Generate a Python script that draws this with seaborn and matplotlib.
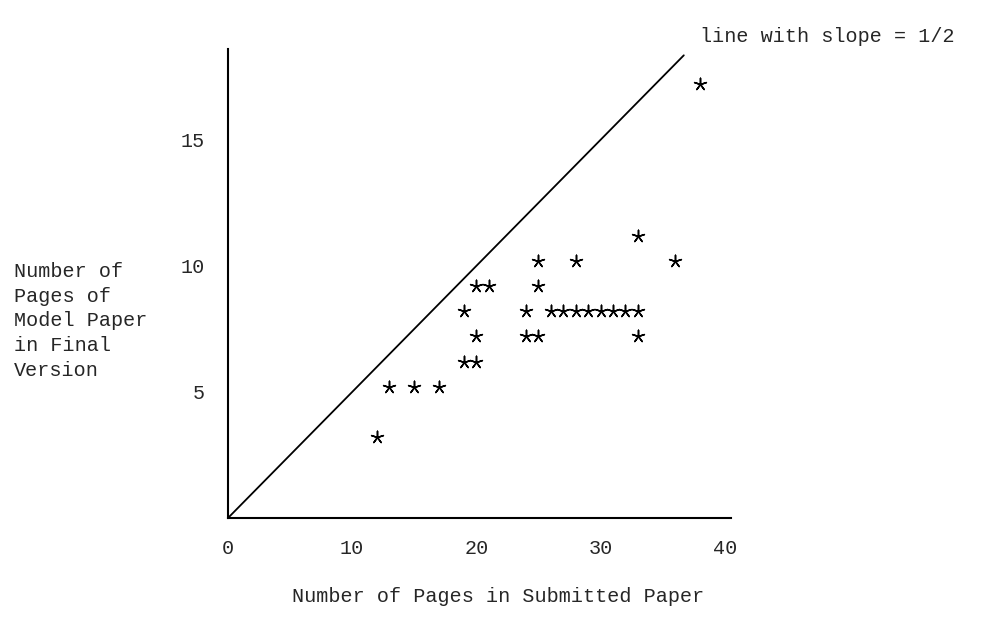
import numpy as np
import pandas as pd
import matplotlib
matplotlib.use("Agg")
import matplotlib.pyplot as plt
import matplotlib.transforms as mtransforms
import seaborn as sns

# pages in submitted paper vs pages of the model paper in its final version
submitted = [12, 13, 15, 17, 19, 20, 20, 19, 20, 21, 24, 24, 25, 25, 25,
             28, 26, 27, 28, 29, 30, 31, 32, 33, 33, 33, 36, 38]
final = [3, 5, 5, 5, 6, 6, 7, 8, 9, 9, 8, 7, 7, 9, 10,
         10, 8, 8, 8, 8, 8, 8, 8, 8, 11, 7, 10, 17]

slope = 0.5
line_end = 36.7

x_ticks = [0, 10, 20, 30, 40]
y_ticks = [5, 10, 15]

df = pd.DataFrame({"submitted": submitted, "final": final})

sns.set_style("white")
plt.rcParams["font.family"] = ["Liberation Mono", "DejaVu Sans Mono"]
fs = 14.5

fig = plt.figure(figsize=(9.84, 6.30), dpi=100)
ax = fig.add_axes([228 / 984, 112 / 630, 503 / 984, 469 / 630])

xs = np.array([0, line_end])
ax.plot(xs, slope * xs, color="black", lw=1.3)

sns.scatterplot(data=df, x="submitted", y="final", ax=ax, marker=(5, 2, 0),
                s=80, color="black", linewidth=1.1, edgecolor="black", legend=False)
# typed asterisks sit a little high in their character cell
coll = ax.collections[-1]
coll.set_offset_transform(ax.transData + mtransforms.ScaledTranslation(0, 5 / 100, fig.dpi_scale_trans))

ax.set_xlim(0, 40.5)
ax.set_ylim(0, 18.6)
ax.set_xticks(x_ticks)
ax.set_yticks(y_ticks)
ax.tick_params(axis="both", direction="in", length=3, width=1, labelsize=fs)
ax.tick_params(axis="x", pad=15)
ax.tick_params(axis="y", pad=17)

for side in ["top", "right"]:
    ax.spines[side].set_visible(False)
for side in ["left", "bottom"]:
    ax.spines[side].set_color("black")
    ax.spines[side].set_linewidth(1.5)

ax.set_xlabel("Number of Pages in Submitted Paper", fontsize=fs, va="center")
ax.xaxis.set_label_coords((498 - 228) / 503, -(596 - 518) / 469)
ax.set_ylabel("")

fig.text(14 / 984, 1 - 321 / 630,
         "Number of\nPages of\nModel Paper\nin Final\nVersion",
         ha="left", va="center", fontsize=fs, linespacing=1.38)

fig.text(700 / 984, 1 - 36 / 630, "line with slope = 1/2",
         ha="left", va="center", fontsize=fs)

fig.savefig("out.png", dpi=100, facecolor="white")
